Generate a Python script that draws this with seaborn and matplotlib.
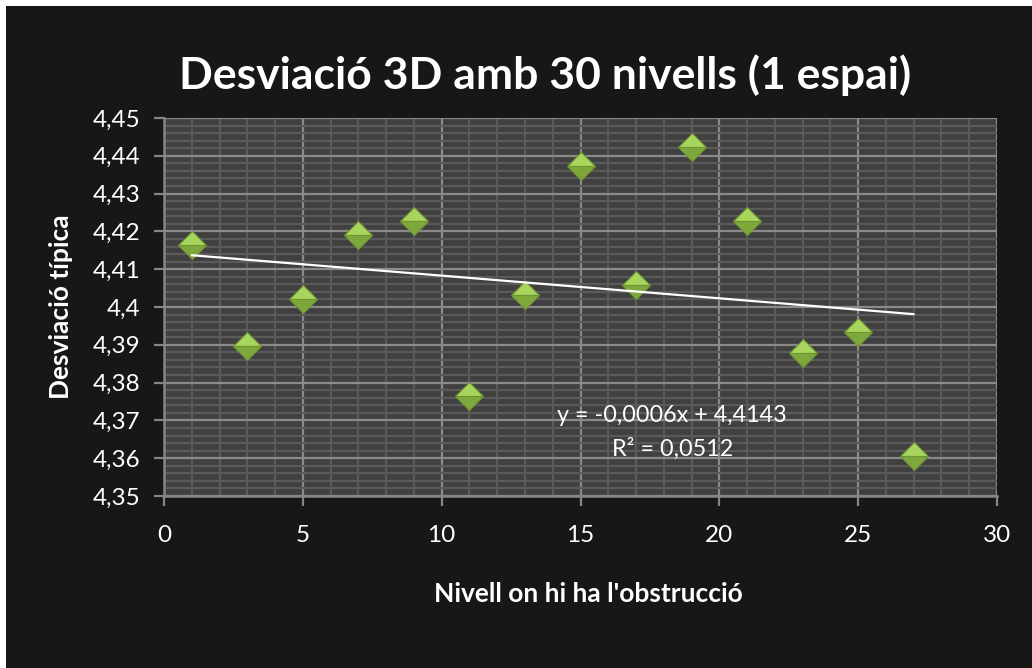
import numpy as np
import pandas as pd
import matplotlib
matplotlib.use("Agg")
import matplotlib.pyplot as plt
from matplotlib.patches import Rectangle
from matplotlib.ticker import MultipleLocator, FuncFormatter
import seaborn as sns

# Obstruction level and measured standard deviation
nivells = [1, 3, 5, 7, 9, 11, 13, 15, 17, 19, 21, 23, 25, 27]
desviacio = [4.4165, 4.3898, 4.4022, 4.4191, 4.4228, 4.3764, 4.4033,
             4.4373, 4.4059, 4.4423, 4.4228, 4.3877, 4.3935, 4.3606]

# Linear trend reported on the chart
pendent = -0.0006
ordenada = 4.4143
r2 = 0.0512

titol = "Desviació 3D amb 30 nivells (1 espai)"
etiqueta_x = "Nivell on hi ha l'obstrucció"
etiqueta_y = "Desviació típica"

df = pd.DataFrame({"nivell": nivells, "desviacio": desviacio})

sns.set_theme(style="dark")
plt.rcParams["font.family"] = ["Lato", "DejaVu Sans"]

BG = "#171717"
PLOT_BG = "#404040"
MINOR = "#5a5a5a"
MAJOR = "#8a8a8a"
AXIS = "#858585"

fig = plt.figure(figsize=(10.32, 6.68), dpi=100, facecolor="white")
fig.patches.append(Rectangle((6 / 1032, 0), 1 - 6 / 1032, 1 - 6 / 668,
                             transform=fig.transFigure, facecolor=BG,
                             edgecolor="none", zorder=-10))

ax = fig.add_axes([164 / 1032, (668 - 496) / 668, 833 / 1032, 378 / 668])
ax.set_zorder(1)
ax.set_facecolor(PLOT_BG)

ax.set_xlim(0, 30)
ax.set_ylim(4.35, 4.45)
ax.xaxis.set_major_locator(MultipleLocator(5))
ax.xaxis.set_minor_locator(MultipleLocator(1))
ax.yaxis.set_major_locator(MultipleLocator(0.01))
ax.yaxis.set_minor_locator(MultipleLocator(0.002))

ax.grid(True, which="minor", color=MINOR, linewidth=1.6, zorder=0)
ax.grid(True, which="major", color=MAJOR, linewidth=1.6, zorder=0.5)
ax.set_axisbelow(True)

coma = lambda v, pos: (f"{v:.2f}".rstrip("0").rstrip(".")).replace(".", ",")
ax.yaxis.set_major_formatter(FuncFormatter(coma))
ax.xaxis.set_major_formatter(FuncFormatter(lambda v, pos: f"{v:.0f}"))

ax.tick_params(axis="both", which="major", direction="out", length=7,
               width=1.6, color=AXIS, labelcolor="white", labelsize=17.5,
               bottom=True, left=True)
ax.tick_params(axis="x", pad=14)
ax.tick_params(axis="y", pad=10)
ax.tick_params(which="minor", length=0)

for side, sp in ax.spines.items():
    if side in ("left", "bottom"):
        sp.set_visible(True)
        sp.set_color(AXIS)
        sp.set_linewidth(1.8)
    else:
        sp.set_visible(False)

# Bevelled green diamonds: light upper half, darker lower half
sns.lineplot(data=df, x="nivell", y="desviacio", ax=ax, linestyle="",
             marker="D", markersize=14.5, fillstyle="top",
             markerfacecolor="#a8d65c", markerfacecoloralt="#7fa83c",
             markeredgecolor="#6f9433", markeredgewidth=0.8,
             color="#8fbf48", zorder=3, legend=False)

# Trend line from the fitted coefficients
xt = np.array([nivells[0], nivells[-1]], dtype=float)
ax.plot(xt, pendent * xt + ordenada, color="white", linewidth=1.6, zorder=4)

eq = f"y = {pendent:.4f}x + {ordenada:.4f}".replace(".", ",")
ax.text(18.3, 4.3712, eq, ha="center", va="center", color="white",
        fontsize=16.8, zorder=5)
ax.text(18.3, 4.3624, f"R² = {r2:.4f}".replace(".", ","), ha="center",
        va="center", color="white", fontsize=16.8, zorder=5)

ax.set_xlabel(etiqueta_x, color="white", fontsize=19, fontweight="bold")
ax.set_ylabel(etiqueta_y, color="white", fontsize=19, fontweight="bold")
ax.xaxis.set_label_coords(0.51, -0.227)
ax.yaxis.set_label_coords(-0.109, 0.5)

fig.text(545 / 1032, 1 - 75 / 668, titol, ha="center", va="center",
         color="white", fontsize=32, fontweight="bold")

fig.savefig("out.png", dpi=100, facecolor=fig.get_facecolor())
